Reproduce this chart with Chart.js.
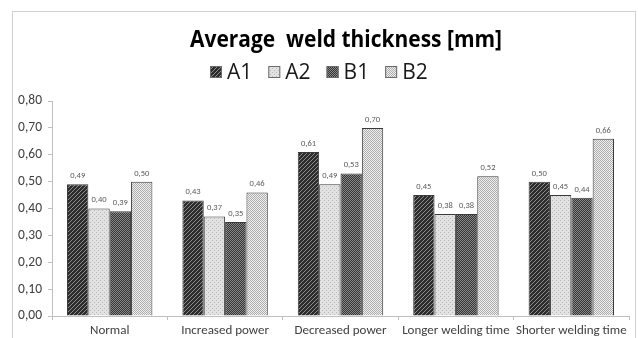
<!DOCTYPE html>
<html>
<head>
<meta charset="utf-8">
<script src="https://cdn.jsdelivr.net/npm/chart.js@4/dist/chart.umd.min.js"></script>
<style>
  html, body { margin: 0; padding: 0; background: #ffffff; }
  #wrap { position: relative; width: 638px; height: 338px; }
</style>
</head>
<body>
<div id="wrap"><canvas id="c"></canvas></div>
<script>
// Welding experiments and measured average weld thickness (mm)
const categories = ['Normal', 'Increased power', 'Decreased power', 'Longer welding time', 'Shorter welding time'];
const seriesNames = ['A1', 'A2', 'B1', 'B2'];
const valuesA1 = [0.49, 0.43, 0.61, 0.45, 0.50];
const valuesA2 = [0.40, 0.37, 0.49, 0.38, 0.45];
const valuesB1 = [0.39, 0.35, 0.53, 0.38, 0.44];
const valuesB2 = [0.50, 0.46, 0.70, 0.52, 0.66];
const yTicks = [0, 0.1, 0.2, 0.3, 0.4, 0.5, 0.6, 0.7, 0.8];
const titleText = 'Average  weld thickness [mm]';

const BASE_FONT = "Carlito, Lato, 'Open Sans', sans-serif";
const fmt = v => v.toFixed(2).replace('.', ',');

// Small monochrome fill tiles for the four series
function makeTile(size, painter) {
  const cv = document.createElement('canvas');
  cv.width = size; cv.height = size;
  const g = cv.getContext('2d');
  painter(g);
  return document.getElementById('c').getContext('2d').createPattern(cv, 'repeat');
}
const fills = [
  // wide upward diagonal, dark
  makeTile(4, g => {
    g.fillStyle = '#2c2c2c'; g.fillRect(0, 0, 4, 4);
    g.fillStyle = '#8e8e8e';
    g.fillRect(3, 0, 1, 1); g.fillRect(2, 1, 1, 1); g.fillRect(1, 2, 1, 1); g.fillRect(0, 3, 1, 1);
  }),
  // sparse light dots
  makeTile(4, g => {
    g.fillStyle = '#e2e2e2'; g.fillRect(0, 0, 4, 4);
    g.fillStyle = '#b8b8b8'; g.fillRect(0, 0, 1, 1); g.fillRect(2, 2, 1, 1);
  }),
  // dark small checker
  makeTile(2, g => {
    g.fillStyle = '#343434'; g.fillRect(0, 0, 2, 2);
    g.fillStyle = '#8a8a8a'; g.fillRect(0, 0, 1, 1); g.fillRect(1, 1, 1, 1);
  }),
  // light small checker
  makeTile(2, g => {
    g.fillStyle = '#f0f0f0'; g.fillRect(0, 0, 2, 2);
    g.fillStyle = '#acacac'; g.fillRect(0, 0, 1, 1); g.fillRect(1, 1, 1, 1);
  })
];

const seriesValues = [valuesA1, valuesA2, valuesB1, valuesB2];
const datasets = seriesNames.map((name, i) => ({
  label: name,
  data: seriesValues[i],
  backgroundColor: fills[i],
  borderColor: '#3a3a3a',
  borderWidth: 1,
  borderSkipped: 'bottom',
  barPercentage: 1.0,
  categoryPercentage: 0.74
}));

// Outer frame, title and legend drawn around the plot
const decorPlugin = {
  id: 'decor',
  beforeDraw(chart) {
    const ctx = chart.ctx;
    ctx.save();
    ctx.fillStyle = '#ffffff';
    ctx.fillRect(0, 0, chart.width, chart.height);
    ctx.strokeStyle = '#d0d0d0';
    ctx.lineWidth = 1;
    ctx.strokeRect(12.5, 11.5, 623, 360);
    ctx.restore();
  },
  afterDraw(chart) {
    const ctx = chart.ctx;
    ctx.save();
    // title, fitted to its width
    ctx.font = "bold 24px 'Open Sans', sans-serif";
    ctx.fillStyle = '#000000';
    ctx.textBaseline = 'alphabetic';
    const tw = ctx.measureText(titleText).width;
    const targetW = 312;
    ctx.translate(190, 47);
    ctx.scale(targetW / tw, 1);
    ctx.fillText(titleText, 0, 0);
    ctx.restore();

    // legend
    ctx.save();
    ctx.font = "21px 'Open Sans', sans-serif";
    ctx.textBaseline = 'alphabetic';
    let x = 210;
    seriesNames.forEach((name, i) => {
      ctx.fillStyle = fills[i];
      ctx.fillRect(x, 66, 12, 12);
      ctx.strokeStyle = '#6a6a6a';
      ctx.lineWidth = 1;
      ctx.strokeRect(x + 0.5, 66.5, 11, 11);
      ctx.fillStyle = '#1a1a1a';
      const w = ctx.measureText(name).width;
      ctx.fillText(name, x + 17, 79);
      x += 17 + w + 16;
    });
    ctx.restore();
  },
  afterDatasetsDraw(chart) {
    const ctx = chart.ctx;
    ctx.save();
    ctx.font = "8.5px " + BASE_FONT;
    ctx.fillStyle = '#595959';
    ctx.textAlign = 'center';
    ctx.textBaseline = 'bottom';
    chart.data.datasets.forEach((ds, di) => {
      chart.getDatasetMeta(di).data.forEach((el, j) => {
        ctx.fillText(fmt(ds.data[j]), el.x, el.y - 4);
      });
    });
    ctx.restore();
  }
};

new Chart(document.getElementById('c'), {
  type: 'bar',
  data: { labels: categories, datasets },
  options: {
    responsive: true,
    maintainAspectRatio: false,
    animation: false,
    layout: { padding: { top: 101, right: 9, left: 0, bottom: 0 } },
    plugins: {
      legend: { display: false },
      title: { display: false },
      tooltip: { enabled: false }
    },
    scales: {
      x: {
        grid: { display: true, drawOnChartArea: false, drawTicks: true, tickLength: 4, color: '#bfbfbf', offset: true },
        border: { display: true, color: '#bfbfbf' },
        ticks: { color: '#404040', font: { size: 13, family: BASE_FONT }, padding: 3, maxRotation: 0, autoSkip: false },
        afterFit(scale) { scale.height = 22; }
      },
      y: {
        min: 0,
        max: 0.8,
        afterBuildTicks(scale) { scale.ticks = yTicks.map(v => ({ value: v })); },
        grid: { display: true, drawOnChartArea: false, drawTicks: true, tickLength: 4, color: '#bfbfbf' },
        border: { display: true, color: '#bfbfbf' },
        ticks: { color: '#404040', font: { size: 13.5, family: BASE_FONT }, padding: 6, callback: v => fmt(v) },
        afterFit(scale) { scale.width = 52; }
      }
    }
  },
  plugins: [decorPlugin]
});
</script>
</body>
</html>
